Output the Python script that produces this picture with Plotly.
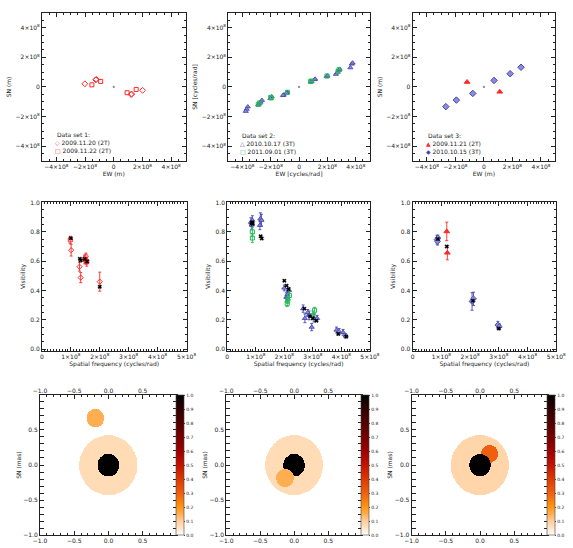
import numpy as np
import plotly.graph_objects as go

W, H = 573, 548
E8 = 1e8

# ---------------- Row 1: uv coverage (values in units of 1e8) ----------------
ds1_a_u = [-2.01, -1.25, -1.21, 2.01, 1.25, 1.21]          # 2009.11.20 (2T)
ds1_a_v = [0.21, 0.48, 0.51, -0.23, -0.48, -0.51]
ds1_b_u = [-1.52, -0.91, 1.56, 0.93]                        # 2009.11.22 (2T)
ds1_b_v = [0.14, 0.37, -0.17, -0.39]

ds2_a_u = [0.84, 0.88, 1.09, 1.13, 1.95, 2.00, 2.60, 2.70, 2.80, 2.86, 3.62, 3.72, 3.78,
           -0.84, -0.88, -1.09, -1.13, -1.93, -2.02, -2.62, -2.72, -2.80, -2.88, -3.62, -3.70, -3.76]
ds2_a_v = [0.34, 0.38, 0.50, 0.53, 0.70, 0.75, 0.86, 0.98, 1.12, 1.20, 1.30, 1.55, 1.62,
           -0.36, -0.41, -0.54, -0.57, -0.66, -0.78, -0.90, -1.02, -1.12, -1.20, -1.34, -1.50, -1.64]
ds2_b_u = [0.82, 0.86, 1.97, 2.82, 2.75, -0.82, -1.97, -2.00, -2.88, -2.78]   # 2011.09.01 (3T)
ds2_b_v = [0.36, 0.40, 0.74, 1.16, 1.05, -0.36, -0.74, -0.70, -1.18, -1.08]

ds3_a_u = [-1.18, 1.11]                                     # 2009.11.21 (2T)
ds3_a_v = [0.33, -0.33]
ds3_b_u = [-2.67, -1.93, -0.78, 0.71, 1.84, 2.60]           # 2010.10.15 (3T)
ds3_b_v = [-1.33, -0.89, -0.44, 0.44, 0.89, 1.33]

origin_u = [0.0]
origin_v = [0.0]

# ---------------- Row 2: visibilities (spatial frequency in 1e8 cycles/rad) ----------------
v1_a_x = [1.01, 1.30, 1.34, 1.52, 2.00]
v1_a_y = [0.675, 0.562, 0.488, 0.635, 0.46]
v1_a_e = [0.04, 0.03, 0.035, 0.02, 0.065]
v1_b_x = [0.98, 1.48, 1.55, 1.53]
v1_b_y = [0.745, 0.612, 0.596, 0.60]
v1_b_e = [0.025, 0.03, 0.03, 0.02]
v1_m_x = [1.00, 1.31, 1.34, 1.48, 1.56, 2.00]
v1_m_y = [0.757, 0.616, 0.605, 0.615, 0.598, 0.425]

v2_a_x = [0.83, 0.86, 0.88, 0.86, 1.16, 1.20, 1.145,
          2.00, 2.07, 2.11, 2.17, 2.12,
          2.66, 2.72, 2.87, 2.96, 3.04, 3.15, 2.82,
          3.83, 3.92, 4.06, 4.15]
v2_a_y = [0.866, 0.848, 0.88, 0.86, 0.89, 0.88, 0.845,
          0.417, 0.354, 0.372, 0.40, 0.36,
          0.276, 0.21, 0.23, 0.15, 0.21, 0.21, 0.25,
          0.13, 0.12, 0.114, 0.09]
v2_a_e = [0.03, 0.03, 0.03, 0.02, 0.04, 0.04, 0.03,
          0.02, 0.03, 0.03, 0.02, 0.03,
          0.025, 0.03, 0.03, 0.025, 0.025, 0.02, 0.02,
          0.02, 0.02, 0.02, 0.015]
v2_b_x = [0.88, 0.88, 2.10, 2.12, 2.18, 3.00, 3.06]
v2_b_y = [0.80, 0.758, 0.31, 0.33, 0.366, 0.23, 0.265]
v2_b_e = [0.03, 0.03, 0.02, 0.02, 0.03, 0.03, 0.02]
v2_m_x = [0.86, 0.89, 0.87, 1.17, 1.21, 2.00, 2.08, 2.15, 2.70, 2.90, 3.00, 3.12, 3.89, 4.17]
v2_m_y = [0.86, 0.855, 0.865, 0.77, 0.755, 0.466, 0.433, 0.408, 0.276, 0.224, 0.21, 0.193, 0.103, 0.085]

v3_a_x = [1.19, 1.21]
v3_a_y = [0.803, 0.657]
v3_a_e = [0.063, 0.048]
v3_b_x = [0.85, 0.88, 0.87, 2.07, 2.12, 2.97, 3.02]
v3_b_y = [0.747, 0.758, 0.735, 0.325, 0.343, 0.164, 0.152]
v3_b_e = [0.03, 0.02, 0.025, 0.06, 0.045, 0.025, 0.02]
v3_m_x = [0.88, 1.19, 2.10, 3.00]
v3_m_y = [0.751, 0.70, 0.33, 0.141]

# ---------------- Row 3: model images (x, y, radius in mas, intensity) ----------------
model1_disks = [(0.0, 0.0, 0.425, 0.07), (-0.19, 0.67, 0.13, 0.15), (0.0, 0.0, 0.16, 1.0)]
model2_disks = [(0.0, 0.0, 0.425, 0.07), (0.0, 0.0, 0.16, 1.0), (-0.135, -0.18, 0.13, 0.15)]
model3_disks = [(0.0, 0.0, 0.425, 0.085), (0.14, 0.16, 0.125, 0.30), (0.0, 0.0, 0.158, 1.0)]

cbar_ticks = [0.0, 0.1, 0.2, 0.3, 0.4, 0.5, 0.6, 0.7, 0.8, 0.9, 1.0]

legend_titles = ["Data set 1:", "Data set 2:", "Data set 3:"]
legend_labels = [["2009.11.20 (2T)", "2009.11.22 (2T)"],
                 ["2010.10.17 (3T)", "2011.09.01 (3T)"],
                 ["2009.11.21 (2T)", "2010.10.15 (3T)"]]

RED = "#ff2a2a"
BLUE = "#4646b0"
BLUE_FILL = "#8c8cdc"
GREEN = "#22bb55"
AX = "#222222"
FONT = "DejaVu Sans"
FS = 6

colorscale = [[0.0, "#ffffff"], [0.05, "#ffe4c6"], [0.1, "#ffcf9c"], [0.15, "#ffae52"],
              [0.2, "#ff9612"], [0.3, "#ee6010"], [0.4, "#dc3a00"], [0.5, "#c41200"],
              [0.6, "#9c0000"], [0.7, "#760000"], [0.8, "#520000"], [0.9, "#300000"],
              [1.0, "#000000"]]

fig = go.Figure()

def dx(l, r):
    return [l / W, r / W]

def dy(t, b):
    return [1 - b / H, 1 - t / H]

def ax(domain, rng, dtick, minor_dtick, title=None, anchor=None, side=None, standoff=4,
       fmt=None, power=False):
    d = dict(domain=domain, range=rng, showline=True, linecolor=AX, linewidth=1,
             mirror="allticks", ticks="inside", ticklen=4, tickwidth=0.8, tickcolor=AX,
             showgrid=False, zeroline=False, tickmode="linear", tick0=0, dtick=dtick,
             tickfont=dict(size=FS, color=AX, family=FONT),
             minor=dict(ticks="inside", ticklen=2, tickwidth=0.6, tickcolor=AX,
                        tickmode="linear", tick0=0, dtick=minor_dtick, showgrid=False),
             anchor=anchor)
    if power:
        d["exponentformat"] = "power"
        d["showexponent"] = "all"
    if fmt:
        d["tickformat"] = fmt
    if title is not None:
        d["title"] = dict(text=title, font=dict(size=FS, color=AX, family=FONT), standoff=standoff)
    if side is not None:
        d["side"] = side
    return d

layout = {}

# ---- positions (pixels) ----
top_x = [(36, 184), (228, 374), (418, 565)]
top_y = (9, 159)
mid_x = [(36, 185), (227, 374), (418, 566)]
mid_y = (201, 351)
bot_x = [(34, 175), (226, 366), (417, 558)]
bot_y = (396, 538)

uv_xtitles = ["EW (m)", "EW [cycles/rad]", "EW (m)"]
uv_ytitles = ["SN (m)", "SN [cycles/rad]", "SN (m)"]

for i in range(3):
    n = i + 1
    s = "" if n == 1 else str(n)
    layout["xaxis" + s] = ax(dx(*top_x[i]), [-5 * E8, 5 * E8], 2 * E8, 0.5 * E8,
                             uv_xtitles[i], anchor="y" + s, standoff=2, power=True)
    layout["yaxis" + s] = ax(dy(*top_y), [-5 * E8, 5 * E8], 2 * E8, 0.5 * E8,
                             uv_ytitles[i], anchor="x" + s, standoff=3, power=True)
for i in range(3):
    n = i + 4
    layout["xaxis%d" % n] = ax(dx(*mid_x[i]), [0, 5 * E8], E8, 0.1 * E8,
                               "Spatial frequency (cycles/rad)", anchor="y%d" % n,
                               standoff=2, power=True)
    layout["yaxis%d" % n] = ax(dy(*mid_y), [-0.01, 1.001], 0.2, 0.05, "Visibility",
                               anchor="x%d" % n, standoff=4, fmt=".1f")
for i in range(3):
    n = i + 7
    layout["xaxis%d" % n] = ax(dx(*bot_x[i]), [-1, 0.999], 0.5, 0.1, anchor="y%d" % n, fmt=".1f")
    layout["yaxis%d" % n] = ax(dy(*bot_y), [-1, 0.999], 0.5, 0.1, "SN (mas)",
                               anchor="x%d" % n, standoff=1, fmt=".1f")
    top = ax(dx(*bot_x[i]), [-1, 0.999], 0.5, 0.1, anchor="y%d" % n, side="top", fmt=".1f")
    top["overlaying"] = "x%d" % n
    top["mirror"] = False
    top["showline"] = False
    layout["xaxis%d" % (n + 3)] = top

def sc(x, y, xa, ya, symbol, size, color, line_color=None, lw=1.0, err=None, ecolor=None,
       yscale=1.0):
    t = go.Scatter(x=[a * E8 for a in x], y=[b * yscale for b in y],
                   xaxis=xa, yaxis=ya, mode="markers", showlegend=False, hoverinfo="skip",
                   marker=dict(symbol=symbol, size=size, color=color,
                               line=dict(color=line_color or color, width=lw)))
    if err is not None:
        t.error_y = dict(type="data", array=err, color=ecolor or color, thickness=0.9, width=1.5)
    return t

# Row 1
fig.add_trace(sc(origin_u, origin_v, "x", "y", "circle", 1.5, "#888", yscale=E8))
fig.add_trace(sc(ds1_a_u, ds1_a_v, "x", "y", "diamond-open", 4.5, RED, yscale=E8))
fig.add_trace(sc(ds1_b_u, ds1_b_v, "x", "y", "square-open", 4, RED, yscale=E8))
fig.add_trace(sc(origin_u, origin_v, "x2", "y2", "circle", 1.5, "#888", yscale=E8))
fig.add_trace(sc(ds2_a_u, ds2_a_v, "x2", "y2", "triangle-up", 4.5, BLUE_FILL, BLUE, 0.9, yscale=E8))
fig.add_trace(sc(ds2_b_u, ds2_b_v, "x2", "y2", "square-open", 4, GREEN, lw=1.0, yscale=E8))
fig.add_trace(sc(origin_u, origin_v, "x3", "y3", "circle", 1.5, "#888", yscale=E8))
fig.add_trace(sc(ds3_a_u, ds3_a_v, "x3", "y3", "triangle-up", 5, RED, yscale=E8))
fig.add_trace(sc(ds3_b_u, ds3_b_v, "x3", "y3", "diamond", 5, BLUE_FILL, BLUE, 1.0, yscale=E8))

# Row 2
fig.add_trace(sc(v1_a_x, v1_a_y, "x4", "y4", "diamond-open", 4, RED, err=v1_a_e))
fig.add_trace(sc(v1_b_x, v1_b_y, "x4", "y4", "square-open", 4, RED, err=v1_b_e))
fig.add_trace(sc(v1_m_x, v1_m_y, "x4", "y4", "x", 3.5, "#000", lw=0.3))
fig.add_trace(sc(v2_a_x, v2_a_y, "x5", "y5", "triangle-up", 4.5, BLUE_FILL, BLUE, 0.9, err=v2_a_e, ecolor=BLUE))
fig.add_trace(sc(v2_b_x, v2_b_y, "x5", "y5", "square-open", 4, GREEN, lw=1.0, err=v2_b_e))
fig.add_trace(sc(v2_m_x, v2_m_y, "x5", "y5", "x", 3.5, "#000", lw=0.3))
fig.add_trace(sc(v3_a_x, v3_a_y, "x6", "y6", "triangle-up", 5, RED, err=v3_a_e))
fig.add_trace(sc(v3_b_x, v3_b_y, "x6", "y6", "diamond", 4.5, BLUE_FILL, BLUE, 0.9, err=v3_b_e, ecolor=BLUE))
fig.add_trace(sc(v3_m_x, v3_m_y, "x6", "y6", "x", 3.5, "#000", lw=0.3))

# Row 3: model images
N = 401
grid = np.linspace(-1, 1, N)
GX, GY = np.meshgrid(grid, grid)
for i, disks in enumerate([model1_disks, model2_disks, model3_disks]):
    n = i + 7
    z = np.zeros_like(GX)
    for (cx, cy, r, val) in disks:
        z[(GX - cx) ** 2 + (GY - cy) ** 2 <= r ** 2] = val
    cb_left = bot_x[i][1] - 1
    fig.add_trace(go.Heatmap(
        x=grid, y=grid, z=z, xaxis="x%d" % n, yaxis="y%d" % n, zmin=0, zmax=1,
        colorscale=colorscale, hoverinfo="skip",
        colorbar=dict(x=cb_left / W, xanchor="left", y=1 - (bot_y[0] + bot_y[1]) / 2 / H,
                      yanchor="middle", len=(bot_y[1] - bot_y[0]) / H, lenmode="fraction",
                      thickness=8, thicknessmode="pixels", xpad=0, ypad=0,
                      outlinewidth=0.6, outlinecolor="#444", tickmode="array",
                      tickvals=cbar_ticks, ticktext=["%.1f" % t for t in cbar_ticks],
                      ticks="outside", ticklen=1.5, tickcolor="#444",
                      tickfont=dict(size=4.5, color=AX, family=FONT))))
    # empty trace so that the top (overlaying) axis is drawn
    fig.add_trace(go.Scatter(x=[None], y=[None], xaxis="x%d" % (n + 3), yaxis="y%d" % n,
                             mode="markers", showlegend=False, hoverinfo="skip"))

# Legends (top row) as text blocks
leg_pos = [(47, 127), (238, 128), (430, 128)]
leg_sym = [[("◇", RED), ("□", RED)], [("△", BLUE), ("□", GREEN)], [("▲", RED), ("◆", BLUE)]]
ann = []
for i in range(3):
    lx, ly = leg_pos[i]
    lines = [" " + legend_titles[i]]
    for j in range(2):
        sym, col = leg_sym[i][j]
        lines.append("<span style='color:%s'>%s</span> %s" % (col, sym, legend_labels[i][j]))
    ann.append(dict(x=lx / W, y=1 - ly / H, xref="paper", yref="paper", xanchor="left",
                    yanchor="top", align="left", showarrow=False, text="<br>".join(lines),
                    font=dict(size=FS, color=AX, family=FONT)))

fig.update_layout(width=W, height=H, margin=dict(l=0, r=0, t=0, b=0),
                  paper_bgcolor="white", plot_bgcolor="white", showlegend=False,
                  annotations=ann, font=dict(family=FONT, size=FS, color=AX), **layout)
fig.write_html("out.html")
